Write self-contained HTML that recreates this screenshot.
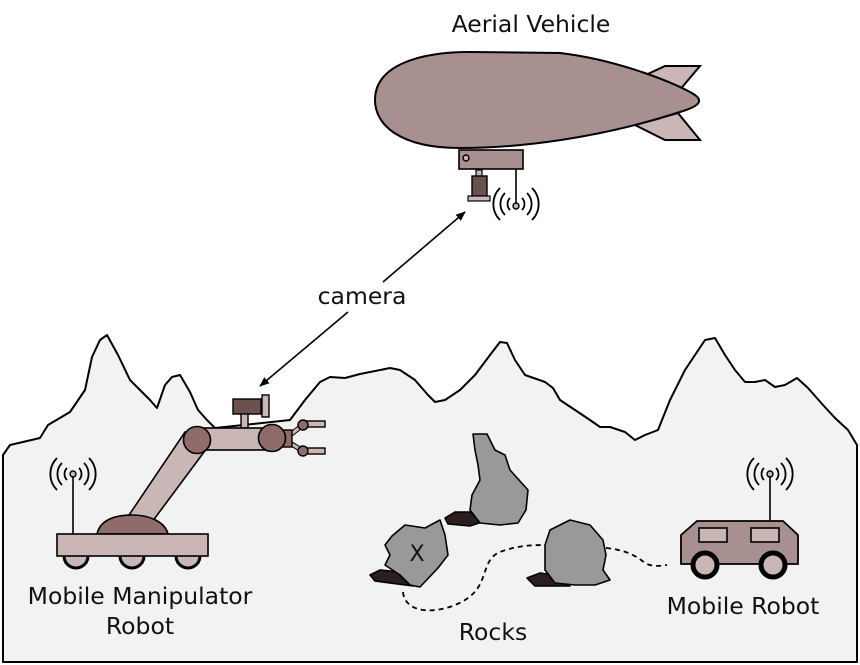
<!DOCTYPE html>
<html><head><meta charset="utf-8"><style>
html,body{margin:0;padding:0;background:#fff;}
svg{display:block;}
text{font-family:"DejaVu Sans","Liberation Sans",sans-serif;font-size:23.5px;fill:#111;}
</style></head><body>
<svg width="860" height="665" viewBox="0 0 860 665" xmlns="http://www.w3.org/2000/svg">
<defs>
<g id="sig" fill="none" stroke="#000" stroke-width="1.8">
<path d="M-6,-6 A8.5,8.5 0 0 0 -6,6 M6,-6 A8.5,8.5 0 0 1 6,6"/>
<path d="M-11,-11 A15.5,15.5 0 0 0 -11,11 M11,-11 A15.5,15.5 0 0 1 11,11"/>
<path d="M-16,-16 A22.6,22.6 0 0 0 -16,16 M16,-16 A22.6,22.6 0 0 1 16,16"/>
</g>
<marker id="ah" markerWidth="10" markerHeight="8" refX="9" refY="4" orient="auto" markerUnits="userSpaceOnUse"><path d="M0,0 L10,4 L0,8 Z" fill="#000"/></marker>
</defs>
<path d="M3,455 L10,445 L40,438 L48,425 L70,412 L85,390 L92,357 L100,340 L107,335 L118,355 L130,380 L142,392 L150,400 L157,408 L165,385 L172,377 L180,375 L190,392 L198,410 L207,420 L215,428 L290,420 L305,400 L320,382 L330,377 L345,378 L360,374 L390,368 L400,370 L415,380 L428,395 L435,402 L445,400 L460,390 L475,375 L490,355 L500,342 L507,343 L515,360 L525,375 L545,382 L553,388 L560,400 L575,410 L590,420 L600,427 L610,427 L625,432 L635,440 L645,435 L658,430 L670,400 L685,370 L695,355 L705,340 L715,338 L725,355 L735,370 L745,382 L755,382 L765,380 L775,387 L785,385 L797,378 L808,388 L823,405 L835,418 L848,430 L857,445 L857,662 L3,662 Z" fill="#f2f2f2" stroke="#000" stroke-width="2" stroke-linejoin="round"/>
<polygon points="635,80 665,66 700,66 678,92" fill="#c9b6b5" stroke="#000" stroke-width="2"/>
<polygon points="635,125 665,140 700,140 678,113" fill="#c9b6b5" stroke="#000" stroke-width="2"/>
<path d="M375,100 C375,65 420,52 470,52 L560,53 C620,60 680,85 695,95 C703,101 700,106 680,112 C600,138 520,148 460,148 C400,148 375,125 375,100 Z" fill="#a89090" stroke="#000" stroke-width="2"/>
<rect x="459" y="150" width="64" height="19" fill="#a89090" stroke="#000" stroke-width="1.6"/>
<circle cx="466" cy="158" r="3" fill="#c9b6b5" stroke="#000" stroke-width="1.4"/>
<rect x="476" y="170" width="6" height="7" fill="#c9b6b5" stroke="#000" stroke-width="1.2"/>
<rect x="472" y="176" width="15" height="20" fill="#6b5050" stroke="#000" stroke-width="1.4"/>
<rect x="468" y="196" width="22" height="5" fill="#c9b6b5" stroke="#000" stroke-width="1.2"/>
<line x1="516" y1="169" x2="516" y2="203" stroke="#000" stroke-width="1.6"/>
<circle cx="516" cy="206" r="3" fill="#c9b6b5" stroke="#000" stroke-width="1.4"/>
<use href="#sig" x="516" y="204"/>
<text x="531" y="32" text-anchor="middle">Aerial Vehicle</text>
<line x1="383" y1="282" x2="465" y2="212" stroke="#000" stroke-width="1.6" marker-end="url(#ah)"/>
<line x1="348" y1="312" x2="260" y2="386" stroke="#000" stroke-width="1.6" marker-end="url(#ah)"/>
<text x="362" y="304" text-anchor="middle">camera</text>
<line x1="73" y1="534" x2="73" y2="477" stroke="#000" stroke-width="1.6"/>
<circle cx="73" cy="474" r="3" fill="#c9b6b5" stroke="#000" stroke-width="1.4"/>
<use href="#sig" x="73" y="474"/>
<g fill="#c9b6b5" stroke="#000" stroke-width="3">
<circle cx="76" cy="556" r="12"/><circle cx="132" cy="556" r="12"/><circle cx="188" cy="556" r="12"/>
</g>
<polygon points="127,518 185,432 207,448 152,522" fill="#c9b6b5" stroke="#000" stroke-width="1.6"/>
<path d="M97,534 C100,520 115,515 132,515 C150,515 165,522 168,534 Z" fill="#8f6b6a" stroke="#000" stroke-width="1.6"/>
<rect x="57" y="534" width="151" height="22" fill="#c9b6b5" stroke="#000" stroke-width="1.6"/>
<rect x="241" y="413" width="7" height="15" fill="#c9b6b5" stroke="#000" stroke-width="1.4"/>
<rect x="233" y="399" width="28" height="15" fill="#6b5050" stroke="#000" stroke-width="1.4"/>
<rect x="262" y="395" width="7" height="22" fill="#c9b6b5" stroke="#000" stroke-width="1.4"/>
<rect x="197" y="428" width="75" height="22" fill="#c9b6b5" stroke="#000" stroke-width="1.6"/>
<line x1="290" y1="435" x2="303" y2="425" stroke="#000" stroke-width="5"/>
<line x1="290" y1="435" x2="303" y2="425" stroke="#c9b6b5" stroke-width="3"/>
<line x1="290" y1="443" x2="303" y2="451" stroke="#000" stroke-width="5"/>
<line x1="290" y1="443" x2="303" y2="451" stroke="#c9b6b5" stroke-width="3"/>
<rect x="305" y="421" width="20" height="6" fill="#c9b6b5" stroke="#000" stroke-width="1.4"/>
<rect x="305" y="448" width="20" height="6" fill="#c9b6b5" stroke="#000" stroke-width="1.4"/>
<circle cx="303" cy="425" r="5" fill="#8f6b6a" stroke="#000" stroke-width="1.4"/>
<circle cx="303" cy="451" r="5" fill="#8f6b6a" stroke="#000" stroke-width="1.4"/>
<rect x="283" y="430" width="9" height="17" fill="#8f6b6a" stroke="#000" stroke-width="1.4"/>
<circle cx="197" cy="440" r="13.5" fill="#8f6b6a" stroke="#000" stroke-width="1.6"/>
<circle cx="272" cy="438" r="13.5" fill="#8f6b6a" stroke="#000" stroke-width="1.6"/>
<text x="140" y="604" text-anchor="middle">Mobile Manipulator</text>
<text x="140" y="634" text-anchor="middle">Robot</text>
<path d="M403,592 C405,615 440,615 465,600 C490,585 480,560 500,552 C515,546 530,545 546,545 M606,548 C625,550 635,555 645,563 C652,567 660,566 667,565" fill="none" stroke="#000" stroke-width="1.8" stroke-dasharray="5,4"/>
<g stroke="#000" stroke-width="1.6" stroke-linejoin="round">
<path d="M445,518 L455,512 L470,512 L482,522 L470,526 L448,524 Z" fill="#2a1e1e"/>
<path d="M473,434 L487,434 L495,450 L505,455 L510,470 L528,490 L526,510 L518,523 L500,525 L480,523 L470,510 L472,495 L480,480 L478,465 L475,450 Z" fill="#999"/>
<path d="M370,575 L380,570 L400,572 L413,586 L375,581 Z" fill="#2a1e1e"/>
<path d="M392,536 L405,525 L425,528 L440,520 L445,535 L448,555 L438,568 L420,587 L410,585 L400,575 L385,565 L390,555 L385,545 Z" fill="#999"/>
<path d="M527,578 L540,573 L555,575 L570,586 L535,586 Z" fill="#2a1e1e"/>
<path d="M550,530 L570,520 L590,525 L603,540 L606,555 L603,570 L610,580 L595,585 L575,585 L555,583 L545,570 L545,545 Z" fill="#999"/>
</g>
<text x="417" y="561" text-anchor="middle" style="font-size:22px">X</text>
<text x="493" y="640" text-anchor="middle">Rocks</text>
<line x1="770" y1="521" x2="770" y2="477" stroke="#000" stroke-width="1.6"/>
<circle cx="770" cy="474" r="3" fill="#c9b6b5" stroke="#000" stroke-width="1.4"/>
<use href="#sig" x="770" y="474"/>
<polygon points="681,535 697,521 783,521 798,535 798,564 681,564" fill="#a89090" stroke="#000" stroke-width="1.8"/>
<rect x="699" y="528" width="28" height="14" fill="#c9b6b5" stroke="#000" stroke-width="1.6"/>
<rect x="751" y="528" width="28" height="14" fill="#c9b6b5" stroke="#000" stroke-width="1.6"/>
<circle cx="705" cy="565" r="12" fill="#c9b6b5" stroke="#000" stroke-width="5"/>
<circle cx="773" cy="565" r="12" fill="#c9b6b5" stroke="#000" stroke-width="5"/>
<text x="743" y="614" text-anchor="middle">Mobile Robot</text>
</svg>
</body></html>
